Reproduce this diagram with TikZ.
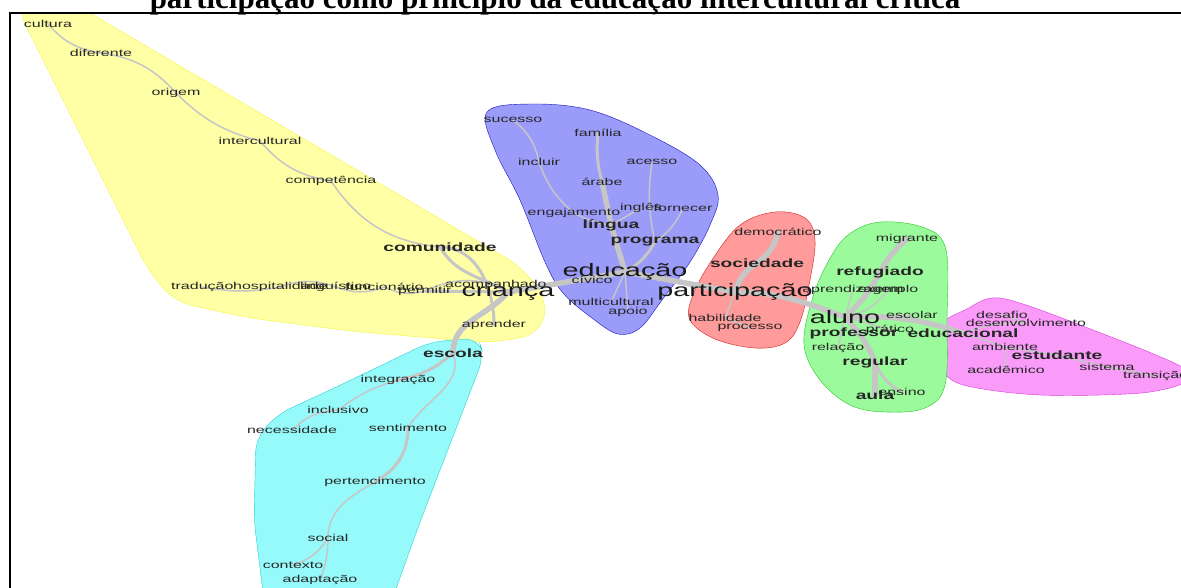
\documentclass[tikz,border=0pt]{standalone}
\usepackage{fontspec}
\setmainfont{Liberation Serif}
\newfontfamily\wordfont[FakeStretch=1.6]{Liberation Sans}

\definecolor{hullyellow}{RGB}{255,255,165}
\definecolor{edgeyellow}{RGB}{245,245,60}
\definecolor{hullblue}{RGB}{155,155,250}
\definecolor{edgeblue}{RGB}{20,20,190}
\definecolor{hullred}{RGB}{255,155,155}
\definecolor{edgered}{RGB}{215,30,30}
\definecolor{hullgreen}{RGB}{155,250,155}
\definecolor{edgegreen}{RGB}{40,200,40}
\definecolor{hullcyan}{RGB}{150,250,250}
\definecolor{edgecyan}{RGB}{40,210,210}
\definecolor{hullpink}{RGB}{250,155,250}
\definecolor{edgepink}{RGB}{215,60,215}

\pgfdeclarelayer{hulls}
\pgfdeclarelayer{links}
\pgfsetlayers{hulls,links,main}

\begin{document}
\begin{tikzpicture}[x=1pt,y=-1pt,
    word/.style={font=\wordfont\fontsize{10}{10}\selectfont, text=black!85, inner sep=0pt},
    midword/.style={font=\wordfont\fontsize{12}{12}\selectfont\bfseries, text=black!85, inner sep=0pt},
    bigword/.style={font=\wordfont\fontsize{18}{18}\selectfont, text=black!90, inner sep=0pt},
    link/.style={draw=gray!45, line width=1.5pt, line cap=round},
    midlink/.style={link, line width=3pt},
    thicklink/.style={link, line width=5.5pt}]
    \useasboundingbox (0,0) rectangle (1181,587);

    % Title (cut at the top)
    \node[font=\bfseries\fontsize{31}{31}\selectfont, anchor=base] (title) at (555,8)
        {participação como princípio da educação intercultural crítica};

    % Yellow words
    \node[word] (cultura) at (48,24) {cultura};
    \node[word] (diferente) at (101,53) {diferente};
    \node[word] (origem) at (176,93) {origem};
    \node[word] (intercultural) at (260,141) {intercultural};
    \node[word] (competencia) at (331,181) {competência};
    \node[midword] (comunidade) at (440,247) {comunidade};
    \node[word, anchor=west] (traducao) at (171,287) {tradução};
    \node[word, anchor=west] (hospitalidade) at (233,287) {hospitalidade};
    \node[word, anchor=west] (linguistico) at (300,287) {linguístico};
    \node[word, anchor=west] (funcionario) at (345,287) {funcionário};
    \node[word, anchor=west] (acompanhado) at (445,285) {acompanhado};
    \node[word, anchor=west] (permitir) at (398,291) {permitir};
    \node[bigword] (crianca) at (508,292) {criança};
    \node[word] (aprender) at (494,325) {aprender};

    % Cyan words
    \node[midword] (escola) at (453,353) {escola};
    \node[word] (integracao) at (398,380) {integração};
    \node[word] (inclusivo) at (338,410) {inclusivo};
    \node[word] (necessidade) at (292,430) {necessidade};
    \node[word] (sentimento) at (408,428) {sentimento};
    \node[word] (pertencimento) at (375,482) {pertencimento};
    \node[word] (social) at (328,538) {social};
    \node[word] (contexto) at (293,565) {contexto};
    \node[word] (adaptacao) at (320,580) {adaptação};

    % Blue words
    \node[word] (sucesso) at (513,120) {sucesso};
    \node[word] (familia) at (598,133) {família};
    \node[word] (incluir) at (539,162) {incluir};
    \node[word] (acesso) at (652,162) {acesso};
    \node[word] (arabe) at (602,182) {árabe};
    \node[word] (engajamento) at (574,213) {engajamento};
    \node[word] (ingles) at (641,208) {inglês};
    \node[word] (fornecer) at (683,208) {fornecer};
    \node[midword] (lingua) at (611,225) {língua};
    \node[midword] (programa) at (655,242) {programa};
    \node[bigword] (educacao) at (625,272) {educação};
    \node[word] (civico) at (592,280) {cívico};
    \node[word] (multicultural) at (611,302) {multicultural};
    \node[word] (apoio) at (628,312) {apoio};

    % Red words
    \node[word] (democratico) at (778,232) {democrático};
    \node[midword] (sociedade) at (757,263) {sociedade};
    \node[bigword] (participacao) at (735,292) {participação};
    \node[word] (habilidade) at (725,318) {habilidade};
    \node[word] (processo) at (750,328) {processo};

    % Green words
    \node[word] (migrante) at (907,239) {migrante};
    \node[midword] (refugiado) at (880,272) {refugiado};
    \node[word] (aprendizagem) at (853,290) {aprendizagem};
    \node[word] (exemplo) at (888,290) {exemplo};
    \node[word] (escolar) at (912,315) {escolar};
    \node[bigword] (aluno) at (845,317) {aluno};
    \node[midword] (professor) at (854,333) {professor};
    \node[word] (pratico) at (890,330) {prático};
    \node[midword] (educacional) at (963,333) {educacional};
    \node[word] (relacao) at (838,348) {relação};
    \node[midword] (regular) at (875,362) {regular};
    \node[midword] (aula) at (875,395) {aula};
    \node[word] (ensino) at (902,392) {ensino};

    % Pink words
    \node[word] (desafio) at (1002,315) {desafio};
    \node[word] (desenvolvimento) at (1026,323) {desenvolvimento};
    \node[word] (ambiente) at (1005,347) {ambiente};
    \node[midword] (estudante) at (1057,355) {estudante};
    \node[word] (sistema) at (1107,367) {sistema};
    \node[word] (academico) at (1006,370) {acadêmico};
    \node[word, anchor=west] (transicao) at (1123,376) {transição};

    % Links of the tree
    \begin{pgfonlayer}{links}
    \draw[link] (cultura.center) to[bend right=20] (diferente.center);
    \draw[link] (diferente.center) to[bend left=20] (origem.center);
    \draw[link] (origem.center) to[bend right=15] (intercultural.center);
    \draw[link] (intercultural.center) to[bend right=20] (competencia.center);
    \draw[link] (competencia.center) to[bend right=25] (comunidade.center);
    \draw[midlink] (comunidade.center) to[out=0, in=90] (aprender.center);
    \draw[midlink] (comunidade.center) to[out=-60, in=150] (crianca.center);
    \draw[link] (traducao.center) to[bend right=10] (hospitalidade.center);
    \draw[link] (hospitalidade.center) to[bend left=20] (linguistico.center);
    \draw[link] (linguistico.center) to[bend right=20] (funcionario.center);
    \draw[link] (funcionario.center) to[bend right=20] (permitir.center);
    \draw[link] (permitir.center) to[bend left=20] (acompanhado.center);
    \draw[midlink] (permitir.center) -- (crianca.center);
    \draw[thicklink] (crianca.center) to[out=10, in=190] (educacao.center);
    \draw[thicklink] (crianca.center) to[out=-130, in=90] (escola.center);

    \draw[midlink] (escola.center) to[bend left=15] (integracao.center);
    \draw[link] (integracao.center) to[bend right=10] (inclusivo.center);
    \draw[link] (inclusivo.center) to[bend right=20] (necessidade.center);
    \draw[link] (escola.center) to[out=-70, in=60] (sentimento.center);
    \draw[midlink] (sentimento.center) to[out=-90, in=30] (pertencimento.center);
    \draw[link] (pertencimento.center) to[out=210, in=90] (social.center);
    \draw[link] (social.center) to[bend left=20] (contexto.center);
    \draw[link] (social.center) to[bend left=10] (adaptacao.center);

    \draw[thicklink] (educacao.center) -- (lingua.center);
    \draw[thicklink] (lingua.center) -- (arabe.center);
    \draw[midlink] (arabe.center) to[bend left=10] (familia.center);
    \draw[link] (lingua.center) to[bend left=10] (engajamento.center);
    \draw[link] (engajamento.center) to[bend left=15] (incluir.center);
    \draw[link] (incluir.center) to[bend right=20] (sucesso.center);
    \draw[midlink] (educacao.center) to[bend right=15] (programa.center);
    \draw[link] (programa.center) to[bend right=15] (fornecer.center);
    \draw[link] (programa.center) to[bend left=10] (acesso.center);
    \draw[link] (lingua.center) -- (ingles.center);
    \draw[link] (educacao.center) -- (civico.center);
    \draw[link] (educacao.center) -- (multicultural.center);
    \draw[link] (educacao.center) -- (apoio.center);
    \draw[thicklink] (educacao.center) to[out=-10, in=170] (participacao.center);

    \draw[thicklink] (participacao.center) to[bend left=20] (sociedade.center);
    \draw[thicklink] (sociedade.center) to[bend right=20] (democratico.center);
    \draw[link] (participacao.center) -- (habilidade.center);
    \draw[link] (habilidade.center) -- (processo.center);

    \draw[thicklink] (participacao.center) to[out=0, in=160] (aluno.center);
    \draw[thicklink] (aluno.center) to[bend right=10] (refugiado.center);
    \draw[thicklink] (refugiado.center) to[bend left=10] (migrante.center);
    \draw[link] (aluno.center) -- (aprendizagem.center);
    \draw[link] (aluno.center) to[bend right=20] (exemplo.center);
    \draw[link] (aluno.center) -- (escolar.center);
    \draw[link] (aluno.center) -- (professor.center);
    \draw[link] (aluno.center) -- (pratico.center);
    \draw[link] (aluno.center) -- (relacao.center);
    \draw[thicklink] (aluno.center) to[bend left=10] (educacional.center);
    \draw[thicklink] (aluno.center) to[bend left=10] (regular.center);
    \draw[thicklink] (regular.center) -- (aula.center);
    \draw[midlink] (regular.center) to[bend right=20] (ensino.center);

    \draw[link] (educacional.center) to[bend left=10] (desenvolvimento.center);
    \draw[link] (desenvolvimento.center) -- (desafio.center);
    \draw[link] (educacional.center) -- (ambiente.center);
    \draw[link] (ambiente.center) -- (estudante.center);
    \draw[link] (estudante.center) -- (sistema.center);
    \draw[link] (sistema.center) -- (transicao.center);
    \draw[link] (ambiente.center) -- (academico.center);
    \end{pgfonlayer}

    % Hulls of the communities
    \begin{pgfonlayer}{hulls}
    \begin{scope}
    \clip (10,13) rectangle (1181,587);
    \filldraw[fill=hullyellow, draw=edgeyellow, rounded corners=18pt]
        (16,6) -- (78,6) -- (520,266) -- (548,300) -- (540,334) -- (490,343)
        -- (350,331) -- (250,318) -- (175,302) -- (148,270) -- cycle;
    \filldraw[fill=hullcyan, draw=edgecyan, rounded corners=14pt]
        (430,342) -- (478,338) -- (484,356) -- (420,522) -- (392,600)
        -- (264,600) -- (254,520) -- (256,438) -- (278,414) -- (330,390) -- cycle;
    \filldraw[fill=hullblue, draw=edgeblue]
        plot[smooth cycle, tension=0.6] coordinates {(487,112) (530,104) (590,110) (650,135)
        (700,165) (718,195) (710,225) (690,262) (662,300) (640,328) (618,334)
        (592,318) (563,293) (545,262) (520,200) (495,150)};
    \filldraw[fill=hullred, draw=edgered]
        plot[smooth cycle, tension=0.6] coordinates {(775,212) (805,218) (815,240) (810,280)
        (800,322) (785,343) (755,348) (715,339) (690,320) (693,295) (712,260) (740,225)};
    \filldraw[fill=hullpink, draw=edgepink]
        plot[smooth cycle, tension=0.5] coordinates {(935,328) (965,310) (1000,298) (1080,325)
        (1190,372) (1150,392) (1040,395) (960,384) (936,360)};
    \filldraw[fill=hullgreen, draw=edgegreen]
        plot[smooth cycle, tension=0.6] coordinates {(880,222) (925,228) (946,250) (947,320)
        (945,385) (925,408) (885,412) (850,405) (820,380) (804,345) (812,300) (828,262) (848,235)};
    \end{scope}
    \end{pgfonlayer}

    % Frame
    \draw[line width=2.5pt] (10,590) -- (10,13) -- (1185,13);

\end{tikzpicture}
\end{document}
